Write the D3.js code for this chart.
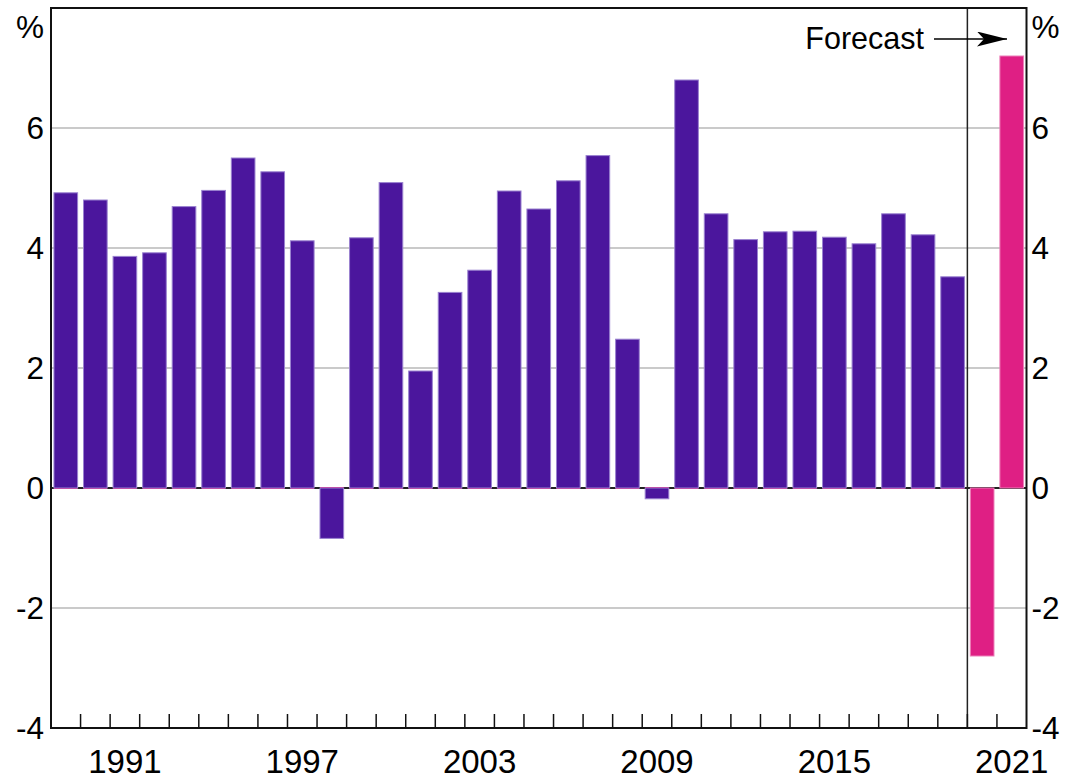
<!DOCTYPE html>
<html>
<head>
<meta charset="utf-8">
<script src="https://cdn.jsdelivr.net/npm/d3@7"></script>
<style>
  body { margin: 0; background: #fff; }
  svg { display: block; font-family: "Liberation Sans", Arial, sans-serif; }
</style>
</head>
<body>
<svg id="chart" width="1066" height="781"></svg>
<script>
// data
var years = [1989, 1990, 1991, 1992, 1993, 1994, 1995, 1996, 1997, 1998, 1999,
             2000, 2001, 2002, 2003, 2004, 2005, 2006, 2007, 2008, 2009, 2010,
             2011, 2012, 2013, 2014, 2015, 2016, 2017, 2018, 2019, 2020, 2021];
var actual = [4.92, 4.80, 3.86, 3.92, 4.69, 4.96, 5.50, 5.27, 4.12, -0.84, 4.17,
              5.09, 1.95, 3.26, 3.63, 4.95, 4.65, 5.12, 5.54, 2.48, -0.18, 6.80,
              4.57, 4.14, 4.27, 4.28, 4.18, 4.07, 4.57, 4.22, 3.52, null, null];
var forecast = [0, 0, 0, 0, 0, 0, 0, 0, 0, 0, 0,
                0, 0, 0, 0, 0, 0, 0, 0, 0, 0, 0,
                0, 0, 0, 0, 0, 0, 0, 0, 0, -2.80, 7.20];
var yTicks = [-4, -2, 0, 2, 4, 6];
var yearLabels = [1991, 1997, 2003, 2009, 2015, 2021];
var forecastStart = 2020;

var margin = {"left": 51, "right": 40, "top": 8, "bottom": 53};
var width = 1066, height = 781;
var purple = "#4b169d", pink = "#df1f84";

var svg = d3.select("#chart");

var x = d3.scaleBand()
          .domain(years)
          .range([margin.left, width - margin.right + 0.5])
          .paddingInner(0.2)
          .paddingOuter(0.1);

var y = d3.scaleLinear()
          .domain([-4, 8])
          .range([height - margin.bottom, margin.top]);

var left = margin.left, right = width - margin.right + 0.5;
var step = x.step();

// gridlines
svg.append("g").selectAll("line")
   .data(yTicks.filter(function(d) { return d != 0 && d != -4; }))
   .enter().append("line")
   .attr("x1", left).attr("x2", right)
   .attr("y1", function(d) { return y(d); })
   .attr("y2", function(d) { return y(d); })
   .attr("stroke", "#b8b8b8")
   .attr("stroke-width", 1.5);

// zero line
svg.append("line")
   .attr("x1", left).attr("x2", right)
   .attr("y1", y(0)).attr("y2", y(0))
   .attr("stroke", "#222").attr("stroke-width", 2);

// forecast series (zero values show as thin pink line)
svg.append("g").selectAll("rect")
   .data(years.map(function(d, i) { return {year: d, val: forecast[i]}; }))
   .enter().append("rect")
   .attr("x", function(d) { return x(d.year); })
   .attr("width", x.bandwidth())
   .attr("y", function(d) { return d.val == 0 ? y(0) - 1 : y(Math.max(0, d.val)); })
   .attr("height", function(d) { return d.val == 0 ? 2 : Math.abs(y(d.val) - y(0)); })
   .attr("fill", pink)
   .attr("stroke", "#ec7fb8")
   .attr("stroke-width", function(d) { return d.val == 0 ? 0 : 1; });

// actual series
svg.append("g").selectAll("rect")
   .data(years.map(function(d, i) { return {year: d, val: actual[i]}; })
              .filter(function(d) { return d.val != null; }))
   .enter().append("rect")
   .attr("x", function(d) { return x(d.year); })
   .attr("width", x.bandwidth())
   .attr("y", function(d) { return y(Math.max(0, d.val)); })
   .attr("height", function(d) { return Math.abs(y(d.val) - y(0)); })
   .attr("fill", purple)
   .attr("stroke", "#9a82d0")
   .attr("stroke-width", 1);

// forecast divider
var divX = x(forecastStart) - step * 0.2 / 2;
svg.append("line")
   .attr("x1", divX).attr("x2", divX)
   .attr("y1", y(8)).attr("y2", y(-4))
   .attr("stroke", "#222").attr("stroke-width", 1.5);

// x ticks at year boundaries
svg.append("g").selectAll("line")
   .data(years.slice(1))
   .enter().append("line")
   .attr("x1", function(d) { return x(d) - step * 0.1; })
   .attr("x2", function(d) { return x(d) - step * 0.1; })
   .attr("y1", y(-4)).attr("y2", y(-4) - 14)
   .attr("stroke", "#111").attr("stroke-width", 1.5);

// plot border
svg.append("rect")
   .attr("x", left).attr("y", y(8))
   .attr("width", right - left).attr("height", y(-4) - y(8))
   .attr("fill", "none").attr("stroke", "#111").attr("stroke-width", 2);

// y labels both sides
var fs = 31.5;
svg.append("g").selectAll("text")
   .data(yTicks).enter().append("text")
   .attr("x", left - 7).attr("y", function(d) { return y(d); })
   .attr("dy", "0.36em").attr("text-anchor", "end")
   .attr("font-size", fs).text(function(d) { return d; });
svg.append("g").selectAll("text")
   .data(yTicks).enter().append("text")
   .attr("x", right + 5).attr("y", function(d) { return y(d); })
   .attr("dy", "0.36em").attr("text-anchor", "start")
   .attr("font-size", fs).text(function(d) { return d; });

svg.append("text").attr("x", left - 7).attr("y", 38)
   .attr("text-anchor", "end").attr("font-size", fs).text("%");
svg.append("text").attr("x", right + 5).attr("y", 38)
   .attr("text-anchor", "start").attr("font-size", fs).text("%");

// year labels
svg.append("g").selectAll("text")
   .data(yearLabels).enter().append("text")
   .attr("x", function(d) { return x(d) + x.bandwidth() / 2; })
   .attr("y", 773)
   .attr("text-anchor", "middle")
   .attr("font-size", 33).text(function(d) { return d; });

// forecast annotation
svg.append("defs").append("marker")
   .attr("id", "arrow").attr("viewBox", "0 0 30 15")
   .attr("refX", 30).attr("refY", 7.5)
   .attr("markerWidth", 30).attr("markerHeight", 15)
   .attr("markerUnits", "userSpaceOnUse")
   .attr("orient", "auto")
   .append("path").attr("d", "M0,0 L30,7.5 L0,15 L7,7.5 Z").attr("fill", "#000");

svg.append("text").attr("x", 924).attr("y", 49)
   .attr("text-anchor", "end").attr("font-size", 30.5).text("Forecast");
svg.append("line")
   .attr("x1", 934).attr("x2", 1007)
   .attr("y1", 39).attr("y2", 39)
   .attr("stroke", "#000").attr("stroke-width", 1.5)
   .attr("marker-end", "url(#arrow)");
</script>
</body>
</html>
